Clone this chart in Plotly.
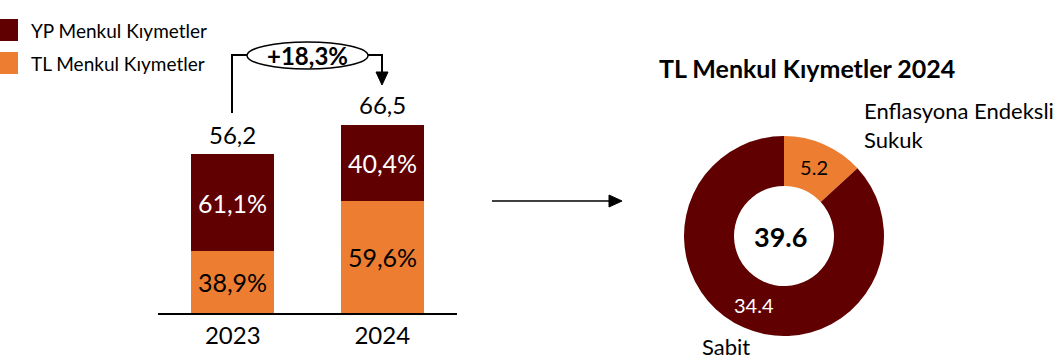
import plotly.graph_objects as go

# ---------------- data ----------------
years = ["2023", "2024"]
totals = [56.2, 66.5]
tl_share = [38.9, 59.6]
yp_share = [61.1, 40.4]
yp_name = "YP Menkul Kıymetler"
tl_name = "TL Menkul Kıymetler"

donut_title = "TL Menkul Kıymetler 2024"
donut_labels = ["Enflasyona Endeksli Sukuk", "Sabit"]
donut_values = [5.2, 34.4]

# ---------------- style ----------------
DARK = "#600000"
ORANGE = "#ED7D31"
W, H = 1060, 360
FONT = "Lato"


def px(x):
    return x / W


def py(y):
    return 1 - y / H


def fmt(v, d=1):
    return f"{v:.{d}f}".replace(".", ",")


tl_vals = [t * s / 100 for t, s in zip(totals, tl_share)]
yp_vals = [t * s / 100 for t, s in zip(totals, yp_share)]
growth = (totals[1] / totals[0] - 1) * 100

fig = go.Figure()
fig.add_trace(go.Bar(
    x=years, y=tl_vals, name=tl_name, marker=dict(color=ORANGE, line=dict(width=0)),
    width=0.555, text=[fmt(s) + "%" for s in tl_share], texttemplate="%{text}",
    textposition="inside", insidetextanchor="middle", textangle=0, constraintext="none",
    textfont=dict(family=FONT, size=25, color="black"), hoverinfo="skip",
))
fig.add_trace(go.Bar(
    x=years, y=yp_vals, name=yp_name, marker=dict(color=DARK, line=dict(width=0)),
    width=0.555, text=[fmt(s) + "%" for s in yp_share], texttemplate="%{text}",
    textposition="inside", insidetextanchor="middle", textangle=0, constraintext="none",
    textfont=dict(family=FONT, size=25, color="white"), hoverinfo="skip",
))

fig.add_trace(go.Pie(
    labels=donut_labels, values=donut_values, sort=False, direction="clockwise",
    rotation=0, hole=0.5, marker=dict(colors=[ORANGE, DARK], line=dict(width=0)),
    texttemplate="%{value:.1f}", textposition="inside", insidetextorientation="horizontal",
    textfont=dict(family=FONT, size=20, color=["black", "white"]),
    domain=dict(x=[px(684), px(884)], y=[py(336), py(136)]),
    showlegend=False, hoverinfo="skip",
))

annotations = []
for i, tot in enumerate(totals):
    annotations.append(dict(x=i, y=tot, xref="x", yref="y", text=fmt(tot), showarrow=False,
                            xanchor="center", yanchor="middle", yshift=20,
                            font=dict(family=FONT, size=24, color="black")))

# legend (manual)
shapes = []
for name, color, y0, y1 in [(yp_name, DARK, 19, 41), (tl_name, ORANGE, 52, 74)]:
    shapes.append(dict(type="rect", xref="paper", yref="paper", x0=px(0), x1=px(18),
                       y0=py(y1), y1=py(y0), fillcolor=color, line=dict(width=0)))
    annotations.append(dict(x=px(29), y=py((y0 + y1) / 2), xref="paper", yref="paper", text=name,
                            showarrow=False, xanchor="left", yanchor="middle",
                            font=dict(family=FONT, size=19, color="black")))

# growth bubble
LINE = dict(color="black", width=2)
shapes.append(dict(type="circle", xref="paper", yref="paper", x0=px(247), x1=px(368),
                   y0=py(69), y1=py(42), line=dict(color="black", width=1.5), fillcolor="white"))
annotations.append(dict(x=px(307.5), y=py(55.5), xref="paper", yref="paper",
                        text="<b>+" + fmt(growth) + "%</b>", showarrow=False,
                        xanchor="center", yanchor="middle",
                        font=dict(family=FONT, size=24, color="black")))
shapes.append(dict(type="path", xref="paper", yref="paper",
                   path=f"M {px(232)} {py(113)} L {px(232)} {py(55)} L {px(247)} {py(55)}", line=LINE))
shapes.append(dict(type="path", xref="paper", yref="paper",
                   path=f"M {px(368)} {py(55)} L {px(382)} {py(55)} L {px(382)} {py(74)}", line=LINE))
shapes.append(dict(type="path", xref="paper", yref="paper",
                   path=f"M {px(376)} {py(72)} L {px(388)} {py(72)} L {px(382)} {py(85)} Z",
                   fillcolor="black", line=dict(color="black", width=1)))

# arrow to donut
shapes.append(dict(type="line", xref="paper", yref="paper", x0=px(492), x1=px(612),
                   y0=py(201), y1=py(201), line=dict(color="black", width=1.3)))
shapes.append(dict(type="path", xref="paper", yref="paper",
                   path=f"M {px(609)} {py(195)} L {px(622)} {py(201)} L {px(609)} {py(207)} Z",
                   fillcolor="black", line=dict(color="black", width=1)))

# donut texts
annotations.append(dict(x=px(806.5), y=py(68), xref="paper", yref="paper", text="<b>" + donut_title + "</b>",
                        showarrow=False, xanchor="center", yanchor="middle",
                        font=dict(family=FONT, size=25, color="black")))
annotations.append(dict(x=px(780), y=py(236), xref="paper", yref="paper",
                        text="<b>" + f"{sum(donut_values):.1f}" + "</b>", showarrow=False,
                        xanchor="center", yanchor="middle",
                        font=dict(family=FONT, size=27, color="black")))
annotations.append(dict(x=px(862), y=py(110), xref="paper", yref="paper", text="Enflasyona Endeksli",
                        showarrow=False, xanchor="left", yanchor="middle",
                        font=dict(family=FONT, size=22, color="black")))
annotations.append(dict(x=px(862), y=py(139), xref="paper", yref="paper", text="Sukuk",
                        showarrow=False, xanchor="left", yanchor="middle",
                        font=dict(family=FONT, size=22, color="black")))
annotations.append(dict(x=px(700), y=py(346), xref="paper", yref="paper", text="Sabit",
                        showarrow=False, xanchor="left", yanchor="middle",
                        font=dict(family=FONT, size=22, color="black")))

ybase = 313
scale = 2.828
fig.update_layout(
    width=W, height=H, margin=dict(l=0, r=0, t=0, b=0),
    paper_bgcolor="white", plot_bgcolor="white", showlegend=False,
    barmode="stack", bargap=0,
    font=dict(family=FONT, color="black"),
    xaxis=dict(domain=[px(158), px(457)], range=[-0.5, 1.5], type="category",
               showline=True, linecolor="black", linewidth=2, showgrid=False, zeroline=False,
               ticks="", tickfont=dict(family=FONT, size=24, color="black"), fixedrange=True),
    yaxis=dict(domain=[py(ybase), 1], range=[0, ybase / scale], visible=False, fixedrange=True),
    shapes=shapes, annotations=annotations,
)

fig.write_html("out.html")
